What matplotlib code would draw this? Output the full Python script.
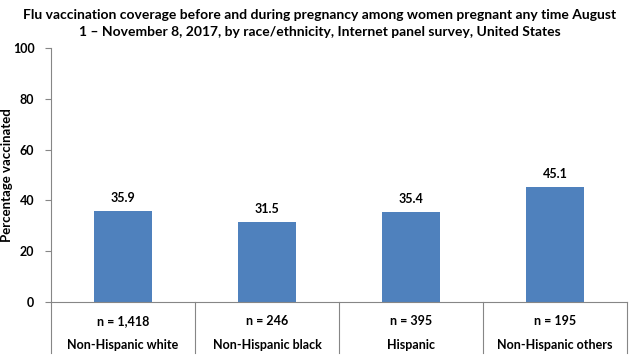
import matplotlib.pyplot as plt
import numpy as np

categories = ['Non-Hispanic white', 'Non-Hispanic black', 'Hispanic', 'Non-Hispanic others']
sample_sizes = ['n = 1,418', 'n = 246', 'n = 395', 'n = 195']
coverage = [35.9, 31.5, 35.4, 45.1]


def main():
    plt.rcParams['font.family'] = ['Lato', 'DejaVu Sans']
    plt.rcParams['font.weight'] = 'bold'

    fig = plt.figure(figsize=(6.39, 3.6), dpi=100)
    ax = fig.add_axes([0.08, 0.161, 0.901, 0.706])

    pos = np.arange(len(categories))
    ax.bar(pos, coverage, width=0.4, color='#4F81BD')
    for x, v in zip(pos, coverage):
        ax.annotate(f'{v:.1f}', (x, v), xytext=(0, 5), textcoords='offset points',
                    ha='center', va='bottom', fontsize=9, fontweight='bold')

    ax.set_xlim(-0.5, len(categories) - 0.5)
    ax.set_ylim(0, 100)
    ax.set_yticks(range(0, 101, 20))
    ax.tick_params(axis='y', labelsize=9, length=4, color='#868686', pad=8)
    ax.set_xticks([])
    for lbl in ax.get_yticklabels():
        lbl.set_fontweight('bold')

    for s in ['top', 'right']:
        ax.spines[s].set_visible(False)
    for s in ['left', 'bottom']:
        ax.spines[s].set_color('#868686')

    # category dividers below the axis
    for b in np.arange(len(categories) + 1) - 0.5:
        ax.plot([b, b], [0, -0.2], transform=ax.get_xaxis_transform(),
                color='#868686', lw=0.8, clip_on=False)
    for x, n, c in zip(pos, sample_sizes, categories):
        ax.text(x, -0.075, n, transform=ax.get_xaxis_transform(),
                ha='center', va='center', fontsize=9, fontweight='bold')
        ax.text(x, -0.17, c, transform=ax.get_xaxis_transform(),
                ha='center', va='center', fontsize=9, fontweight='bold')

    ax.set_ylabel('Percentage vaccinated', fontsize=9.5, fontweight='bold')
    ax.yaxis.set_label_coords(-0.066, 0.5)
    fig.suptitle('Flu vaccination coverage before and during pregnancy among women pregnant any time August\n'
                 '1 \u2013 November 8, 2017, by race/ethnicity, Internet panel survey, United States',
                 x=0.5, y=0.975, fontsize=10, fontweight='bold', linespacing=1.45)

    fig.savefig('out.png', dpi=100)


if __name__ == "__main__":
    main()
